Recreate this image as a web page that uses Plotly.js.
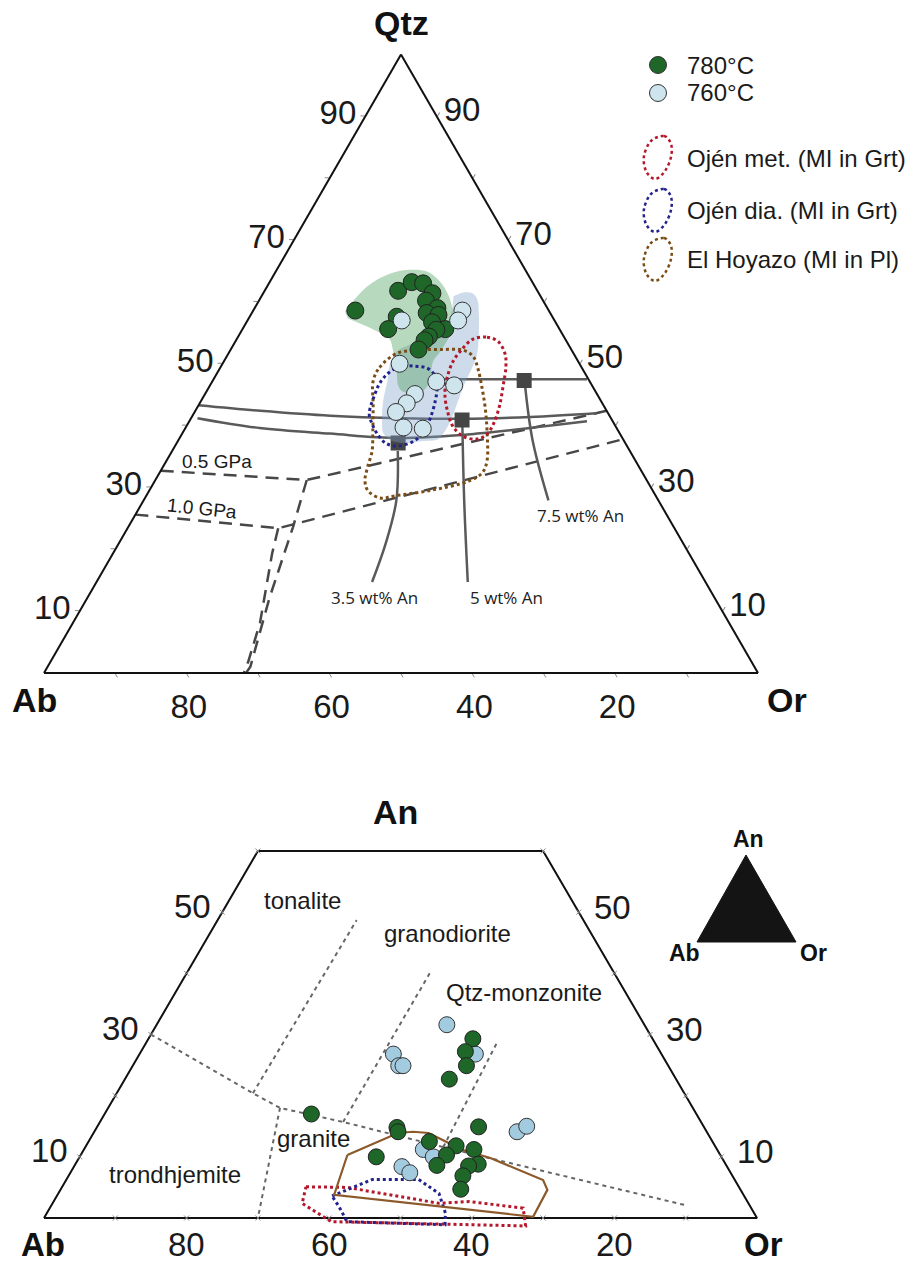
<!DOCTYPE html>
<html>
<head>
<meta charset="utf-8">
<script src="https://cdn.plot.ly/plotly-3.0.1.min.js"></script>
<style>html,body{margin:0;padding:0;background:#fff;} #chart{width:920px;height:1267px;}</style>
</head>
<body>
<div id="chart"></div>
<script>
// ================= DATA: upper diagram Qtz–Ab–Or (normative wt%) =================
const q780_qtz = [58.6,61.8,63.2,63.0,61.4,60.2,59.0,57.6,55.6,58.2,57.9,56.7,55.6,55.5,54.4,53.8,52.3];
const q780_ab  = [27.1,19.5,16.9,15.4,14.9,16.4,15.4,21.8,24.0,17.3,15.8,17.3,16.0,17.3,18.9,19.8,21.4];
const q780_or  = [14.3,18.7,19.9,21.6,23.7,23.4,25.6,20.6,20.4,24.5,26.3,26.0,28.4,27.2,26.7,26.4,26.3];

const q760_qtz = [57.0,58.6,57.0,50.0,47.1,46.5,45.1,43.6,42.2,39.7,39.5];
const q760_ab  = [21.4,12.1,13.5,25.2,21.5,19.3,25.5,27.4,29.6,29.8,27.2];
const q760_or  = [21.6,29.3,29.5,24.8,31.4,34.2,29.4,29.0,28.2,30.5,33.3];

// shaded fields of the two experimental series
const field780_qtz = [58.5,62.5,64.6,65.2,64.9,63.3,61.2,58.5,55.7,54.0,52.0,50.4,47.2,45.6,45.3,45.6,46.7,48.8,52.0,54.0,55.2,56.5,57.3];
const field780_ab  = [28.6,23.5,19.2,16.1,13.9,12.9,12.8,13.5,14.9,16.4,18.5,20.3,22.4,24.1,26.1,27.1,27.1,26.2,25.1,24.6,25.7,27.5,28.8];
const field780_or  = [12.9,14.0,16.2,18.7,21.2,23.8,26.0,28.0,29.4,29.6,29.5,29.3,30.4,30.3,28.6,27.3,26.2,25.0,22.9,21.4,19.1,16.0,13.9];

const field760_qtz = [61.2,61.5,61.4,60.4,58.0,54.8,51.5,49.3,46.9,44.0,41.2,39.1,37.8,37.5,37.2,37.5,38.7,40.7,44.0,47.2,49.9,52.0,53.1,54.8,56.4,58.9,60.9];
const field760_ab  = [11.5,10.6,9.3,9.1,10.1,11.7,13.6,15.4,17.6,20.0,22.3,24.3,25.9,28.2,30.6,32.5,33.1,32.3,30.5,28.3,26.6,24.6,22.2,18.5,15.3,13.4,12.2];
const field760_or  = [27.3,27.9,29.3,30.5,31.9,33.5,34.9,35.3,35.5,36.0,36.5,36.6,36.3,34.3,32.2,30.0,28.2,27.0,25.5,24.5,23.5,23.4,24.7,26.7,28.3,27.7,26.9];

// literature melt-inclusion fields
const ojenMet_qtz = [54.0,54.3,53.6,51.7,49.6,46.4,43.2,40.4,38.5,37.8,38.3,39.9,42.4,45.1,47.7,50.4,52.5];
const ojenMet_ab  = [12.9,10.8,9.6,9.6,10.5,12.5,14.6,16.8,18.8,20.6,22.2,22.8,22.3,21.3,19.7,17.5,15.1];
const ojenMet_or  = [33.1,34.9,36.8,38.7,39.9,41.1,42.2,42.8,42.7,41.6,39.5,37.3,35.3,33.6,32.6,32.1,32.4];

const ojenDia_qtz = [45.1,46.9,48.5,49.6,49.6,49.3,48.0,46.1,44.0,41.2,39.6,37.8,37.0,36.7,37.2,38.7,40.3,41.9];
const ojenDia_ab  = [31.1,29.5,27.5,25.3,23.2,21.7,21.2,21.9,23.2,25.3,26.8,28.9,30.7,32.5,33.6,34.0,33.9,33.5];
const ojenDia_or  = [23.8,23.6,24.0,25.1,27.2,29.0,30.8,32.0,32.8,33.5,33.6,33.3,32.3,30.8,29.2,27.3,25.8,24.6];

const hoyazo_qtz = [47.2,49.4,51.7,52.2,52.3,52.2,51.2,49.3,46.1,42.8,39.1,34.3,32.4,31.1,29.5,28.7,28.3,29.5,31.1,33.2,35.9,39.1,43.2];
const hoyazo_ab  = [30.3,28.3,24.7,21.6,18.4,15.2,14.3,14.6,15.6,16.8,18.4,20.8,22.4,24.8,31.2,36.2,38.8,39.9,39.5,38.1,36.1,34.4,32.3];
const hoyazo_or  = [22.5,22.3,23.6,26.2,29.3,32.6,34.5,36.1,38.3,40.4,42.5,44.9,45.2,44.1,39.3,35.1,32.9,30.6,29.4,28.7,28.0,26.5,24.5];

// cotectic curves and minima for 3.5 / 5 / 7.5 wt% An
const cot5_qtz = [43.3,42.4,41.6,41.2,41.1,41.4,42.0];
const cot5_ab  = [56.7,48.5,39.1,29.5,21.0,11.2,1.6];
const cot5_or  = [0.0,9.1,19.3,29.3,37.9,47.4,56.4];
const cot35_qtz = [41.2,39.6,38.7,38.0,38.7,39.8,40.7];
const cot35_ab  = [57.9,50.0,40.6,31.4,20.0,10.6,3.6];
const cot35_or  = [0.9,10.4,20.7,30.6,41.3,49.6,55.7];
const cot75_qtz = [47.5,47.5];
const cot75_ab  = [20.8,0.2];
const cot75_or  = [31.7,52.3];

const minima_label = ['3.5 wt% An','5 wt% An','7.5 wt% An'];
const minima_qtz = [37.2,40.9,47.3];
const minima_ab  = [31.8,21.0,9.1];
const minima_or  = [31.0,38.1,43.6];

const lead35_qtz = [35.9,27.9,20.9,14.7], lead35_ab = [32.5,36.7,41.7,46.7], lead35_or = [31.6,35.4,37.4,38.6];
const lead5_qtz  = [39.8,27.9,14.7],      lead5_ab  = [21.5,27.2,33.3],      lead5_or  = [38.7,44.9,52.0];
const lead75_qtz = [46.2,37.5,27.9],      lead75_ab = [9.5,12.8,15.4],       lead75_or = [44.3,49.7,56.7];

// pressure-dependent field boundaries (0.5 and 1.0 GPa)
const p05_qtz = [32.7,31.2,42.4], p05_ab = [67.3,47.6,0.0], p05_or = [0.0,21.2,57.6];
const p10_qtz = [25.6,23.4,37.8], p10_ab = [74.4,55.5,0.0], p10_or = [0.0,21.1,62.2];
const fsp05_qtz = [31.2,23.5,12.2,1.0,0.0], fsp05_ab = [47.6,53.4,62.3,70.6,71.7], fsp05_or = [21.2,23.1,25.5,28.4,28.3];
const fsp10_qtz = [23.4,19.3,8.1,1.8,0.0],  fsp10_ab = [55.5,58.4,65.7,70.5,72.0], fsp10_or = [21.1,22.3,26.2,27.7,28.0];

// tick labels of upper diagram
const topLeftLabels   = [10,30,50,70,90];   // Qtz on left edge
const topBottomLabels = [80,60,40,20];      // Ab on base
const topRightLabels  = [90,70,50,30,10];   // Qtz read on right edge

// ================= DATA: lower diagram An–Ab–Or =================
const a780_an = [29.3,27.2,24.9,22.7,17.0,14.8,14.1,14.9,12.5,11.8,11.2,10.3,10.0,8.6,8.8,8.5,6.9,4.7];
const a780_ab = [25.2,27.3,28.3,31.8,54.0,43.1,43.3,31.6,39.7,36.3,34.1,38.4,48.4,40.6,34.7,36.2,37.8,39.2];
const a780_or = [45.5,45.5,46.8,45.5,29.0,42.1,42.6,53.5,47.8,51.9,54.7,51.3,41.6,50.8,56.5,55.3,55.3,56.1];

const a760_an = [31.6,26.8,24.9,24.9,26.8,14.1,15.0,11.2,10.0,8.4,7.4];
const a760_ab = [27.7,37.6,37.8,37.2,26.1,26.6,24.8,41.2,40.4,45.6,45.0];
const a760_or = [40.7,35.6,37.3,37.9,47.1,59.3,60.2,47.6,49.6,46.0,47.6];

const bHoyazo_an = [10.3,13.9,14.1,13.9,11.1,9.8,6.2,4.6,0.2,3.8];
const bHoyazo_ab = [52.3,43.4,41.2,39.1,35.7,32.5,26.9,27.1,31.3,57.4];
const bHoyazo_or = [37.4,42.7,44.7,47.0,53.2,57.7,66.9,68.3,68.5,38.8];
const bOjenMet_an = [5.1,5.0,2.4,2.7,1.6,-1.3,-0.6,2.4];
const bOjenMet_ab = [60.7,55.0,43.4,39.0,32.0,33.1,60.0,62.6];
const bOjenMet_or = [34.2,40.0,54.2,58.3,66.4,68.2,40.6,35.0];
const bOjenDia_an = [3.6,6.3,6.3,4.0,0.8,-1.1,-0.6,1.8];
const bOjenDia_ab = [57.8,50.8,44.3,42.6,43.3,44.3,57.8,57.7];
const bOjenDia_or = [38.6,42.9,49.4,53.4,55.9,56.8,42.8,40.5];

// Barker (1979) classification boundaries
const cls1_an = [30.0,20.4,18.0,15.7,11.6,2.1], cls1_ab = [70.0,60.5,57.9,50.2,38.2,9.0], cls1_or = [0.0,19.1,24.1,34.1,50.2,88.9];
const cls2_an = [20.4,48.7], cls2_ab = [60.5,31.8], cls2_or = [19.1,19.5];
const cls3_an = [18.0,0.0],  cls3_ab = [57.9,70.0], cls3_or = [24.1,30.0];
const cls4_an = [15.7,40.0], cls4_ab = [50.2,25.9], cls4_or = [34.1,34.1];
const cls5_an = [11.6,28.6], cls5_ab = [38.2,22.2], cls5_or = [50.2,49.2];

// truncated-triangle frame (An max 60)
const frame_an = [0,60,60,0,0], frame_ab = [100,40,0,0,100], frame_or = [0,0,40,100,0];

const botSideLabels   = [10,30,50];      // An on both slanted edges
const botBottomLabels = [80,60,40,20];   // Ab on base
const botTickSteps    = [10,20,30,40,50,60,70,80,90];

// ================= LAYOUT HELPERS =================
const W = 920, H = 1267;
const px = x => x / W;
const py = y => 1 - y / H;
const FONT = 'Liberation Sans, Arial, Helvetica, sans-serif';
const OPEN = 'Open Sans, Liberation Sans, Arial, sans-serif';

const TOP = {x0: 44, x1: 758, yTop: 53, yBase: 674.5};
const BOT = {x0: 44, x1: 757, yBase: 1218, yTop: 851, anMax: 60};

const GREEN = '#1f6629', BLUE_T = '#cfe5ee', BLUE_B = '#a3cbe0';
const RED_D = '#b3182b', NAVY_D = '#23238e', BROWN_D = '#7b4d16', BROWN_S = '#8c5a2a';

function tern(a, b, c, opts) {
  return Object.assign({type: 'scatterternary', a: a, b: b, c: c, hoverinfo: 'skip', showlegend: false}, opts);
}
function close(arr) { return arr.concat([arr[0]]); }
function proj(an, ab, or) {
  const x = [], y = [];
  for (let i = 0; i < an.length; i++) {
    const s = an[i] + ab[i] + or[i];
    x.push((or[i] + an[i] / 2) * 100 / s);
    y.push(an[i] * 100 / s);
  }
  return {x: x, y: y};
}
function cart(an, ab, or, opts) {
  const p = proj(an, ab, or);
  return Object.assign({type: 'scatter', x: p.x, y: p.y, xaxis: 'x', yaxis: 'y', hoverinfo: 'skip', showlegend: false, cliponaxis: false}, opts);
}

const DASH = '13px,8px';
const solidGray = {color: '#5a5a5a', width: 2.5, shape: 'spline'};
const dashedGray = {color: '#474747', width: 2.5, dash: DASH};

const traces = [];
// ---- upper diagram ----
traces.push(tern(p05_qtz, p05_ab, p05_or, {mode: 'lines', line: dashedGray}));
traces.push(tern(p10_qtz, p10_ab, p10_or, {mode: 'lines', line: dashedGray}));
traces.push(tern(fsp05_qtz, fsp05_ab, fsp05_or, {mode: 'lines', line: dashedGray}));
traces.push(tern(fsp10_qtz, fsp10_ab, fsp10_or, {mode: 'lines', line: dashedGray}));
traces.push(tern(cot5_qtz, cot5_ab, cot5_or, {mode: 'lines', line: solidGray}));
traces.push(tern(cot35_qtz, cot35_ab, cot35_or, {mode: 'lines', line: solidGray}));
traces.push(tern(cot75_qtz, cot75_ab, cot75_or, {mode: 'lines', line: solidGray}));
traces.push(tern(lead35_qtz, lead35_ab, lead35_or, {mode: 'lines', line: solidGray}));
traces.push(tern(lead5_qtz, lead5_ab, lead5_or, {mode: 'lines', line: solidGray}));
traces.push(tern(lead75_qtz, lead75_ab, lead75_or, {mode: 'lines', line: solidGray}));
traces.push(tern(minima_qtz, minima_ab, minima_or, {mode: 'markers', text: minima_label,
  marker: {symbol: 'square', size: 15, color: '#454545', line: {width: 0}}}));
traces.push(tern(field760_qtz, field760_ab, field760_or, {mode: 'lines', fill: 'toself',
  fillcolor: 'rgba(125,160,200,0.38)', line: {width: 0, shape: 'spline'}}));
traces.push(tern(field780_qtz, field780_ab, field780_or, {mode: 'lines', fill: 'toself',
  fillcolor: 'rgba(75,160,90,0.40)', line: {width: 0, shape: 'spline'}}));
traces.push(tern(close(hoyazo_qtz), close(hoyazo_ab), close(hoyazo_or), {mode: 'lines', name: 'El Hoyazo (MI in Pl)',
  line: {color: BROWN_D, width: 3, dash: 'dot', shape: 'spline'}}));
traces.push(tern(close(ojenDia_qtz), close(ojenDia_ab), close(ojenDia_or), {mode: 'lines', name: 'Ojén dia. (MI in Grt)',
  line: {color: NAVY_D, width: 3, dash: 'dot', shape: 'spline'}}));
traces.push(tern(close(ojenMet_qtz), close(ojenMet_ab), close(ojenMet_or), {mode: 'lines', name: 'Ojén met. (MI in Grt)',
  line: {color: RED_D, width: 3, dash: 'dot', shape: 'spline'}}));
traces.push(tern(q780_qtz, q780_ab, q780_or, {mode: 'markers', name: '780°C',
  marker: {size: 17, color: GREEN, line: {color: '#222', width: 1}}}));
traces.push(tern(q760_qtz, q760_ab, q760_or, {mode: 'markers', name: '760°C',
  marker: {size: 17, color: BLUE_T, line: {color: '#333', width: 1}}}));

// ---- lower diagram ----
traces.push(cart(frame_an, frame_ab, frame_or, {mode: 'lines', line: {color: '#111', width: 2}}));
// tick crosses
(function () {
  const an = [], ab = [], or = [];
  botTickSteps.forEach(v => { an.push(0); ab.push(100 - v); or.push(v); });
  botTickSteps.filter(v => v <= 60).forEach(v => { an.push(v); ab.push(100 - v); or.push(0); an.push(v); ab.push(0); or.push(100 - v); });
  traces.push(cart(an, ab, or, {mode: 'markers', marker: {symbol: 'x-thin', size: 5, line: {color: '#8a8a8a', width: 1}}}));
})();
const clsLine = {color: '#666', width: 2, dash: '4px,4px'};
traces.push(cart(cls1_an, cls1_ab, cls1_or, {mode: 'lines', line: clsLine}));
traces.push(cart(cls2_an, cls2_ab, cls2_or, {mode: 'lines', line: clsLine}));
traces.push(cart(cls3_an, cls3_ab, cls3_or, {mode: 'lines', line: clsLine}));
traces.push(cart(cls4_an, cls4_ab, cls4_or, {mode: 'lines', line: clsLine}));
traces.push(cart(cls5_an, cls5_ab, cls5_or, {mode: 'lines', line: clsLine}));
traces.push(cart(close(bOjenMet_an), close(bOjenMet_ab), close(bOjenMet_or), {mode: 'lines', line: {color: RED_D, width: 3, dash: 'dot'}}));
traces.push(cart(close(bOjenDia_an), close(bOjenDia_ab), close(bOjenDia_or), {mode: 'lines', line: {color: NAVY_D, width: 3, dash: 'dot'}}));
traces.push(cart(close(bHoyazo_an), close(bHoyazo_ab), close(bHoyazo_or), {mode: 'lines', line: {color: BROWN_S, width: 2.2}}));
traces.push(cart(a760_an, a760_ab, a760_or, {mode: 'markers', marker: {size: 16, color: BLUE_B, line: {color: '#333', width: 1}}}));
traces.push(cart(a780_an, a780_ab, a780_or, {mode: 'markers', marker: {size: 16, color: GREEN, line: {color: '#222', width: 1}}}));

// ---- ternary axes ----
const tickAll = [10,20,30,40,50,60,70,80,90];
function axis(ticktext) {
  return {showgrid: false, linecolor: '#111', linewidth: 2, ticks: 'outside', ticklen: 4, tickwidth: 1,
    tickcolor: '#8a8a8a', tickvals: tickAll, ticktext: ticktext, title: {text: ''},
    tickfont: {family: FONT, size: 33, color: '#1a1a1a'}, layer: 'above traces'};
}
const aText = tickAll.map(v => topLeftLabels.includes(v) ? String(v) : '');
const bText = tickAll.map(v => topBottomLabels.includes(v) ? String(v) : '');
const cText = tickAll.map(v => topRightLabels.includes(100 - v) ? String(100 - v) : '');

// ---- annotations ----
const ann = [];
function textAt(x, y, text, size, opts) {
  ann.push(Object.assign({xref: 'paper', yref: 'paper', x: px(x), y: py(y), text: text, showarrow: false,
    xanchor: 'center', yanchor: 'middle', font: {family: FONT, size: size, color: '#1a1a1a'}}, opts || {}));
}
const bold = s => ({font: {family: FONT, size: s, color: '#111', weight: 'bold'}});
textAt(401, 23, 'Qtz', 34, bold(34));
textAt(34, 700, 'Ab', 34, bold(34));
textAt(787, 700, 'Or', 34, bold(34));
textAt(217, 462, '0.5 GPa', 19);
textAt(202, 508, '1.0 GPa', 19, {textangle: 6});
textAt(374, 597, minima_label[0], 17, {font: {family: OPEN, size: 17, color: '#222'}});
textAt(506, 597, minima_label[1], 17, {font: {family: OPEN, size: 17, color: '#222'}});
textAt(580, 515, minima_label[2], 17, {font: {family: OPEN, size: 17, color: '#222'}});
// legend texts
const legY = [65, 93, 158, 211, 260];
['780°C', '760°C', 'Ojén met. (MI in Grt)', 'Ojén dia. (MI in Grt)', 'El Hoyazo (MI in Pl)'].forEach((t, i) =>
  textAt(685, legY[i], t, 24, {xanchor: 'left'}));
// lower diagram titles
textAt(395, 812, 'An', 34, bold(34));
textAt(43, 1244, 'Ab', 33, bold(33));
textAt(763, 1244, 'Or', 33, bold(33));
// region names
textAt(302, 900, 'tonalite', 24);
textAt(447, 933, 'granodiorite', 24);
textAt(524, 992, 'Qtz-monzonite', 24);
textAt(313, 1138, 'granite', 24);
textAt(175, 1174, 'trondhjemite', 24);
// mini An-Ab-Or glyph labels
textAt(748, 839, 'An', 23, bold(23));
textAt(684, 953, 'Ab', 23, bold(23));
textAt(813, 953, 'Or', 23, bold(23));
// lower tick labels on data axes
function dataLabel(an, ab, or, text, xs, ys) {
  const p = proj([an], [ab], [or]);
  ann.push({xref: 'x', yref: 'y', x: p.x[0], y: p.y[0], text: text, showarrow: false, xanchor: 'center', yanchor: 'middle',
    xshift: xs, yshift: ys, font: {family: FONT, size: 33, color: '#1a1a1a'}});
}
botSideLabels.forEach(v => { dataLabel(v, 100 - v, 0, String(v), -30, 6); dataLabel(v, 0, 100 - v, String(v), 34, 5); });
botBottomLabels.forEach(v => dataLabel(0, v, 100 - v, String(v), 0, -27));

// ---- shapes: legend glyphs and mini triangle ----
const shapes = [];
function circle(cx, cy, r, fill) {
  shapes.push({type: 'circle', xref: 'paper', yref: 'paper', x0: px(cx - r), x1: px(cx + r), y0: py(cy + r), y1: py(cy - r),
    fillcolor: fill, line: {color: '#333', width: 1}});
}
circle(658, 65, 8.5, GREEN);
circle(658, 93, 8.5, BLUE_T);
function smoothClosed(pts) {
  const n = pts.length, P = i => pts[(i + n) % n];
  const f = p => px(p[0]).toFixed(5) + ',' + py(p[1]).toFixed(5);
  let d = 'M ' + f(P(0));
  for (let i = 0; i < n; i++) {
    const p0 = P(i - 1), p1 = P(i), p2 = P(i + 1), p3 = P(i + 2);
    const c1 = [p1[0] + (p2[0] - p0[0]) / 6, p1[1] + (p2[1] - p0[1]) / 6];
    const c2 = [p2[0] - (p3[0] - p1[0]) / 6, p2[1] - (p3[1] - p1[1]) / 6];
    d += ' C ' + f(c1) + ' ' + f(c2) + ' ' + f(p2);
  }
  return d + ' Z';
}
const egg = [[6,-22],[13,-14],[13,-1],[7,13],[-3,21],[-12,13],[-14,-2],[-7,-17]];
[[158, RED_D], [211, NAVY_D], [260, BROWN_D]].forEach(([cy, col]) => {
  shapes.push({type: 'path', xref: 'paper', yref: 'paper', path: smoothClosed(egg.map(p => [658 + p[0], cy + p[1]])),
    line: {color: col, width: 2.5, dash: 'dot'}, fillcolor: 'rgba(0,0,0,0)'});
});
shapes.push({type: 'path', xref: 'paper', yref: 'paper',
  path: 'M ' + px(746) + ',' + py(855) + ' L ' + px(697) + ',' + py(942) + ' L ' + px(796) + ',' + py(942) + ' Z',
  fillcolor: '#141414', line: {color: '#141414', width: 1}});

const xr = [-3, 103], yr = [-5, 62];
const pxPerX = (BOT.x1 - BOT.x0) / 100, pxPerY = (BOT.yBase - BOT.yTop) / BOT.anMax;

const layout = {
  width: W, height: H, margin: {l: 0, r: 0, t: 0, b: 0},
  paper_bgcolor: '#fff', plot_bgcolor: 'rgba(0,0,0,0)', showlegend: false, hovermode: false,
  font: {family: FONT, color: '#1a1a1a'},
  ternary: {
    sum: 100, bgcolor: 'rgba(0,0,0,0)',
    domain: {x: [px(TOP.x0), px(TOP.x1)], y: [py(TOP.yBase), py(TOP.yTop)]},
    aaxis: axis(aText), baxis: axis(bText), caxis: axis(cText)
  },
  xaxis: {domain: [px(BOT.x0 + xr[0] * pxPerX), px(BOT.x0 + xr[1] * pxPerX)], range: xr, visible: false, fixedrange: true},
  yaxis: {domain: [py(BOT.yBase - yr[0] * pxPerY), py(BOT.yBase - yr[1] * pxPerY)], range: yr, visible: false, fixedrange: true},
  annotations: ann,
  shapes: shapes
};

Plotly.newPlot('chart', traces, layout, {staticPlot: true, displayModeBar: false});
</script>
</body>
</html>
